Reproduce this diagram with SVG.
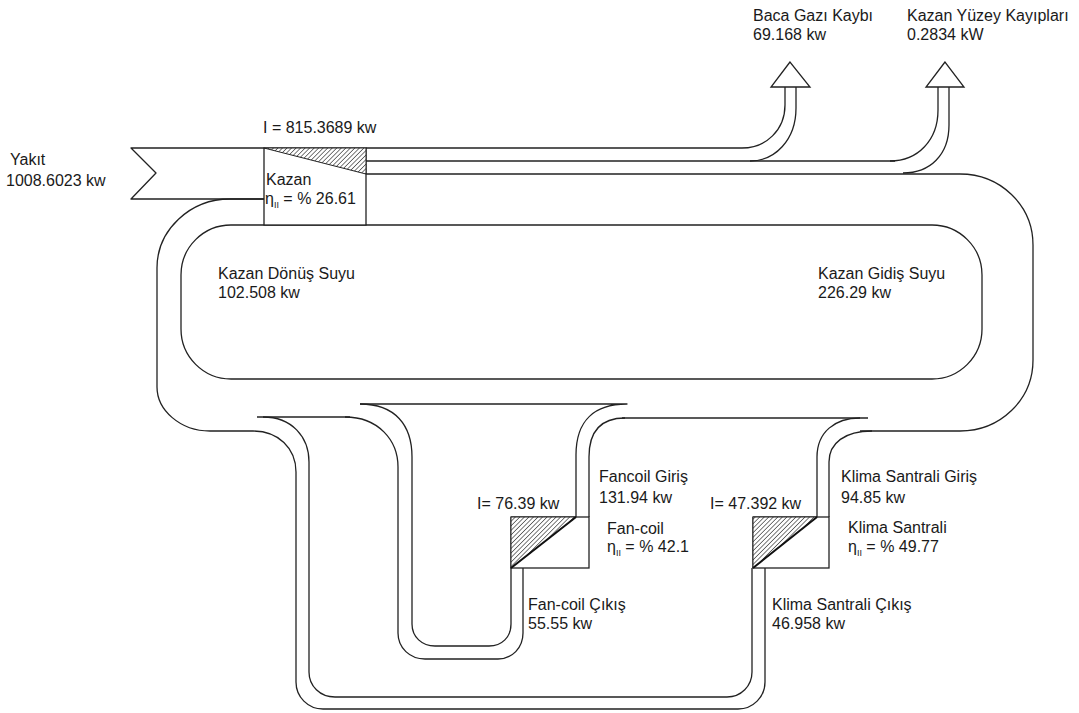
<svg xmlns="http://www.w3.org/2000/svg" width="1079" height="713" viewBox="0 0 1079 713">
<style>
.w{fill:none;stroke:#222;stroke-width:1.3;stroke-linejoin:round}
.box{fill:#fff;stroke:#222;stroke-width:1.3}
.hat{fill:url(#hatch);stroke:#222;stroke-width:1}
.t{font-family:"Liberation Sans",Arial,sans-serif;font-size:16px;fill:#1a1a1a}
.sub{font-size:9px}
</style>
<defs>
<pattern id="hatch" patternUnits="userSpaceOnUse" width="3.2" height="3.2" patternTransform="rotate(45)">
<rect width="3.2" height="3.2" fill="#fff"/>
<line x1="0" y1="0" x2="0" y2="3.2" stroke="#333" stroke-width="1.3"/>
</pattern>
</defs>
<rect width="1079" height="713" fill="#fff"/>

<g id="connectors">
<path class="w" d="M264,148 L131,148 L156,173 L131,199 L264,199"/>
<path class="w" d="M366,148 L742,148 C766,148 785,130 785,105 L785,87"/>
<path class="w" d="M796,87 L796,108 C796,140 775,161 750,161"/>
<path class="w" d="M366,161 L895,161"/>
<path class="w" d="M938,87 L938,110 C938,140 918,161 890,161"/>
<path class="w" d="M949,87 L949,125 C949,155 930,173 903,173"/>
<path class="w" d="M366,174 L960,174 C1000,174 1033,205 1033,245 L1033,360 C1033,400 1000,431 960,431 L860,431"/>
<path class="w" d="M829,517 L829,462 C829,443 845,431 872,431"/>
<path class="w" d="M817,517 L817,457 C817,432 835,418 860,418"/>
<path class="w" d="M622,418 L868,418"/>
<path class="w" d="M589,517 L589,457 C589,432 600,418 625,418"/>
<path class="w" d="M576,517 L576,455 C576,420 595,404 627,404 L360,404"/>
<path class="w" d="M360,404 C395,404 412,425 412,457 L412,624 C412,637 422,646 435,646 L489,646 C502,646 511,637 511,624 L511,568"/>
<path class="w" d="M345,417 C378,417 398,440 398,467 L398,633 C398,648 410,659 425,659 L498,659 C512,659 523,648 523,633 L523,568"/>
<path class="w" d="M257,417 L350,417"/>
<path class="w" d="M263,417 C292,417 309,437 309,462 L309,672 C309,686 320,697 335,697 L727,697 C741,697 752,686 752,672 L752,568"/>
<path class="w" d="M264,199 L230,199 C190,199 157,230 157,268 L157,387 C157,410 180,431 210,431 L253,431 C278,431 296,448 296,472 L296,682 C296,697 308,709 323,709 L738,709 C753,709 765,697 765,682 L765,568"/>
<rect class="w" x="181" y="225" width="801" height="154" rx="50" ry="50"/>
<polygon class="box" points="790,62 771,87 810,87"/>
<polygon class="box" points="945,62 926,87 964,87"/>
</g>

<g id="kazan">
<rect class="box" x="264" y="148" width="102" height="77"/>
<polygon class="hat" points="264,148 366,148 366,174"/>
<text class="t" x="266" y="185">Kazan</text>
<text class="t" x="265" y="204">η<tspan class="sub" dy="4">II</tspan><tspan dy="-4"> = % 26.61</tspan></text>
<text class="t" x="263" y="133">I = 815.3689 kw</text>
</g>

<g id="yakit">
<text class="t" x="10" y="165">Yakıt</text>
<text class="t" x="6" y="186">1008.6023 kw</text>
</g>

<g id="baca">
<text class="t" x="753" y="21">Baca Gazı Kaybı</text>
<text class="t" x="753" y="40">69.168 kw</text>
</g>

<g id="yuzey">
<text class="t" x="907" y="21">Kazan Yüzey Kayıpları</text>
<text class="t" x="907" y="40">0.2834 kW</text>
</g>

<g id="donus">
<text class="t" x="218" y="279">Kazan Dönüş Suyu</text>
<text class="t" x="218" y="298">102.508 kw</text>
</g>

<g id="gidis">
<text class="t" x="818" y="279">Kazan Gidiş Suyu</text>
<text class="t" x="818" y="298">226.29 kw</text>
</g>

<g id="fancoil">
<rect class="box" x="511" y="517" width="78" height="51"/>
<polygon class="hat" points="511,517 576,517 511,568"/>
<line x1="576" y1="517" x2="511" y2="568" stroke="#111" stroke-width="2"/>
<text class="t" x="477" y="509">I= 76.39 kw</text>
<text class="t" x="599" y="482">Fancoil Giriş</text>
<text class="t" x="599" y="503">131.94 kw</text>
<text class="t" x="607" y="534">Fan-coil</text>
<text class="t" x="607" y="552">η<tspan class="sub" dy="4">II</tspan><tspan dy="-4">  = % 42.1</tspan></text>
<text class="t" x="528" y="610">Fan-coil Çıkış</text>
<text class="t" x="528" y="629">55.55 kw</text>
</g>

<g id="klima">
<rect class="box" x="753" y="517" width="76" height="51"/>
<polygon class="hat" points="753,517 817,517 753,568"/>
<line x1="817" y1="517" x2="753" y2="568" stroke="#111" stroke-width="2"/>
<text class="t" x="710" y="509">I= 47.392 kw</text>
<text class="t" x="841" y="482">Klima Santrali Giriş</text>
<text class="t" x="841" y="503">94.85 kw</text>
<text class="t" x="848" y="533">Klima Santrali</text>
<text class="t" x="848" y="552">η<tspan class="sub" dy="4">II</tspan><tspan dy="-4"> = % 49.77</tspan></text>
<text class="t" x="772" y="610">Klima Santrali Çıkış</text>
<text class="t" x="772" y="629">46.958 kw</text>
</g>
</svg>
